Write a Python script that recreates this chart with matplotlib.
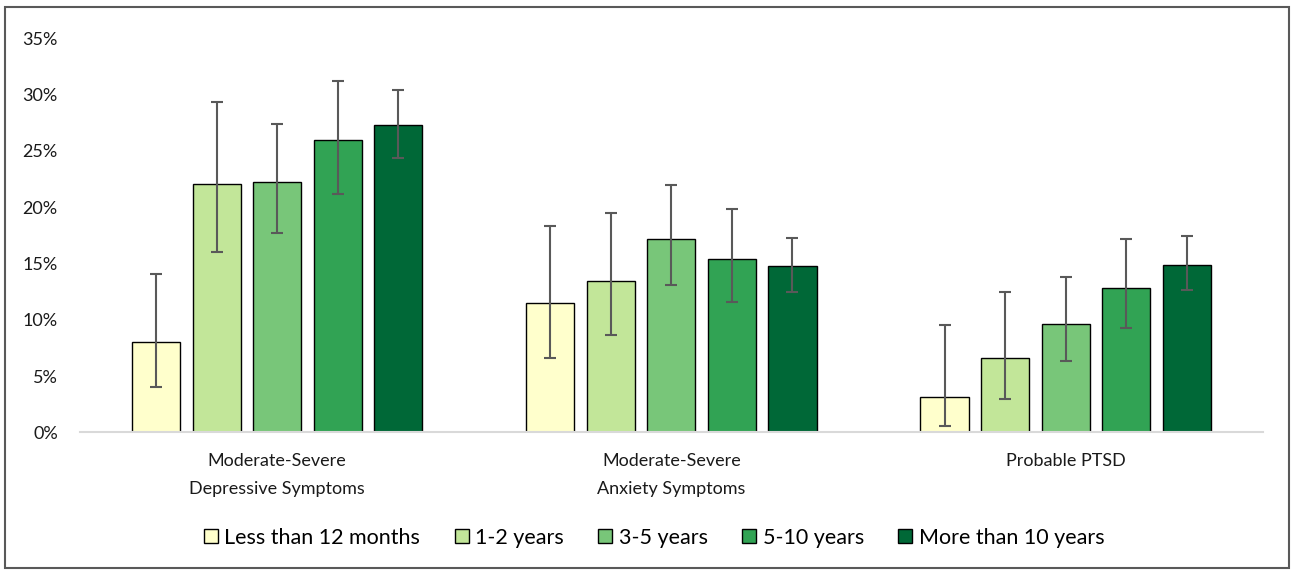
import numpy as np
import matplotlib
matplotlib.use('Agg')
import matplotlib.pyplot as plt
from matplotlib.patches import Rectangle

# data (% of respondents)
categories = ['Moderate-Severe\nDepressive Symptoms',
              'Moderate-Severe\nAnxiety Symptoms',
              'Probable PTSD']
series = ['Less than 12 months', '1-2 years', '3-5 years',
          '5-10 years', 'More than 10 years']
colors = ['#ffffcc', '#c2e699', '#78c679', '#31a354', '#006837']

values = [[8.0, 11.5, 3.1],
          [22.1, 13.4, 6.6],
          [22.2, 17.2, 9.6],
          [26.0, 15.4, 12.8],
          [27.3, 14.8, 14.9]]
err_low = [[4.05, 6.6, 0.6],
           [16.0, 8.6, 3.0],
           [17.7, 13.1, 6.3],
           [21.2, 11.6, 9.3],
           [24.4, 12.5, 12.6]]
err_high = [[14.1, 18.3, 9.5],
            [29.3, 19.5, 12.5],
            [27.4, 22.0, 13.8],
            [31.2, 19.8, 17.2],
            [30.4, 17.3, 17.4]]

plt.rcParams['font.family'] = ['Lato', 'DejaVu Sans']

fig = plt.figure(figsize=(12.93, 5.70), dpi=100)
ax = fig.add_axes([0.0619, 0.2416, 0.9147, 0.6912])

x = np.arange(len(categories))
step = 0.1536
width = 0.122
for i, name in enumerate(series):
    v = np.array(values[i])
    lo = v - np.array(err_low[i])
    hi = np.array(err_high[i]) - v
    pos = x + (i - 2) * step
    ax.bar(pos, v, width, color=colors[i], edgecolor='black',
           linewidth=1.0, label=name, zorder=2)
    ax.errorbar(pos, v, yerr=[lo, hi], fmt='none', ecolor='#595959',
                elinewidth=1.5, capsize=4.5, capthick=1.5, zorder=3)

ax.set_xlim(-0.5, 2.5)
ax.set_ylim(0, 35)
ax.set_yticks(np.arange(0, 36, 5))
ax.set_yticklabels([f'{t}%' for t in range(0, 36, 5)])
ax.set_xticks(x)
ax.set_xticklabels(categories, linespacing=1.9)
ax.tick_params(axis='both', length=0, labelsize=13, colors='#1a1a1a')
ax.tick_params(axis='y', pad=16)
ax.tick_params(axis='x', pad=15)
for s in ['top', 'right', 'left']:
    ax.spines[s].set_visible(False)
ax.spines['bottom'].set_color('#d9d9d9')
ax.spines['bottom'].set_linewidth(1.5)

leg = fig.legend(loc='center', bbox_to_anchor=(0.506, 0.057), ncol=5,
                 frameon=False, fontsize=15.5, handlelength=0.65,
                 handleheight=0.65, handletextpad=0.3, columnspacing=1.6)

# grey outer frame
fig.patches.append(Rectangle((0.004, 0.004), 0.993, 0.984,
                             transform=fig.transFigure, fill=False,
                             edgecolor='#595959', linewidth=1.5))

fig.savefig('out.png', dpi=100)
